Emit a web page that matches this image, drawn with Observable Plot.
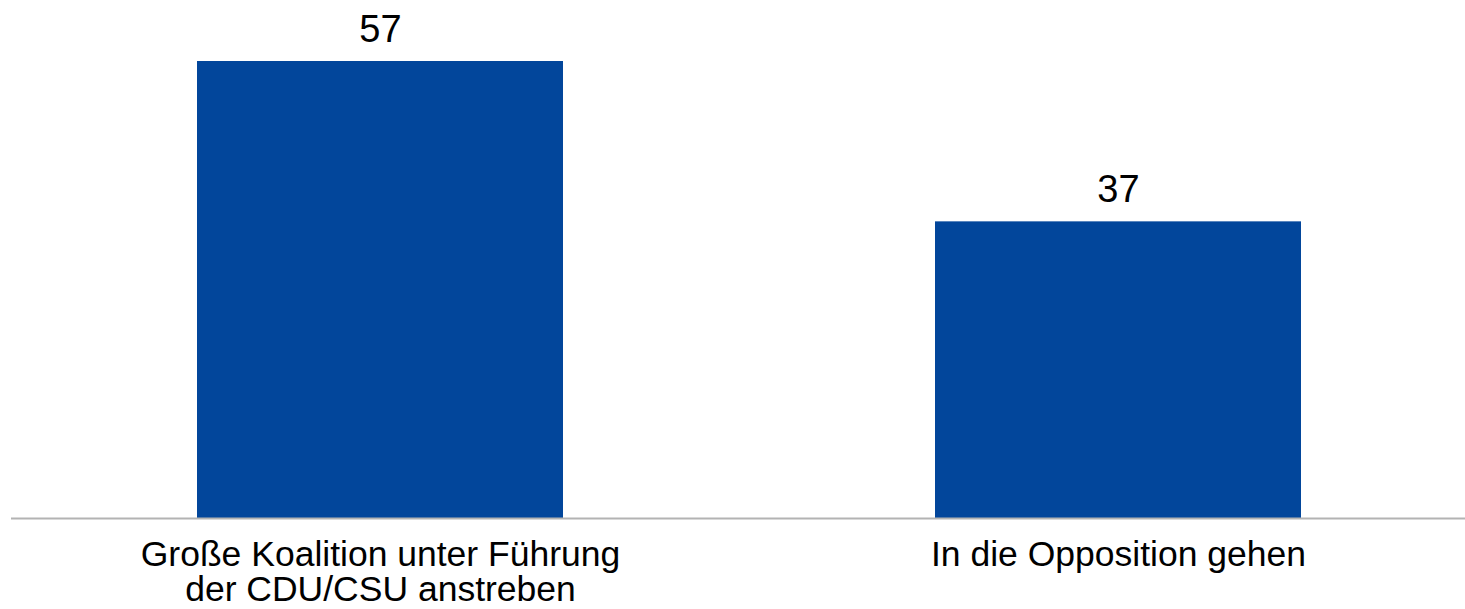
<!DOCTYPE html>
<html>
<head>
<meta charset="utf-8">
<script src="https://cdn.jsdelivr.net/npm/d3@7"></script>
<script src="https://cdn.jsdelivr.net/npm/@observablehq/plot@0.6"></script>
<style>
  html, body { margin: 0; padding: 0; background: #fff; }
  #chart svg { display: block; }
</style>
</head>
<body>
<div id="chart"></div>
<script>
const categories = ["Große Koalition unter Führung\nder CDU/CSU anstreben", "In die Opposition gehen"];
const values = [57, 37];

const data = categories.map((c, i) => ({category: c, value: values[i]}));

const chart = Plot.plot({
  width: 1465,
  height: 609,
  marginTop: 61,
  marginBottom: 91,
  marginLeft: 11,
  marginRight: 0,
  style: {fontFamily: "'Liberation Sans', Arial, sans-serif", background: "#fff", color: "#000"},
  x: {domain: categories, paddingInner: 0.504, paddingOuter: 0.2358, align: 0.531, label: null},
  y: {domain: [0, 57], axis: null},
  marks: [
    Plot.barY(data, {x: "category", y: "value", fill: "#02469b"}),
    Plot.ruleY([0], {stroke: "#b3b3b3", strokeWidth: 2}),
    Plot.text(data, {x: "category", y: "value", text: d => String(d.value), lineAnchor: "bottom", dy: -20, fontSize: 38, fill: "#000"}),
    Plot.axisX({tickSize: 0, tickPadding: 22, fontSize: 35.5, lineHeight: 1, fill: "#000", label: null})
  ]
});
document.getElementById("chart").appendChild(chart);
</script>
</body>
</html>
